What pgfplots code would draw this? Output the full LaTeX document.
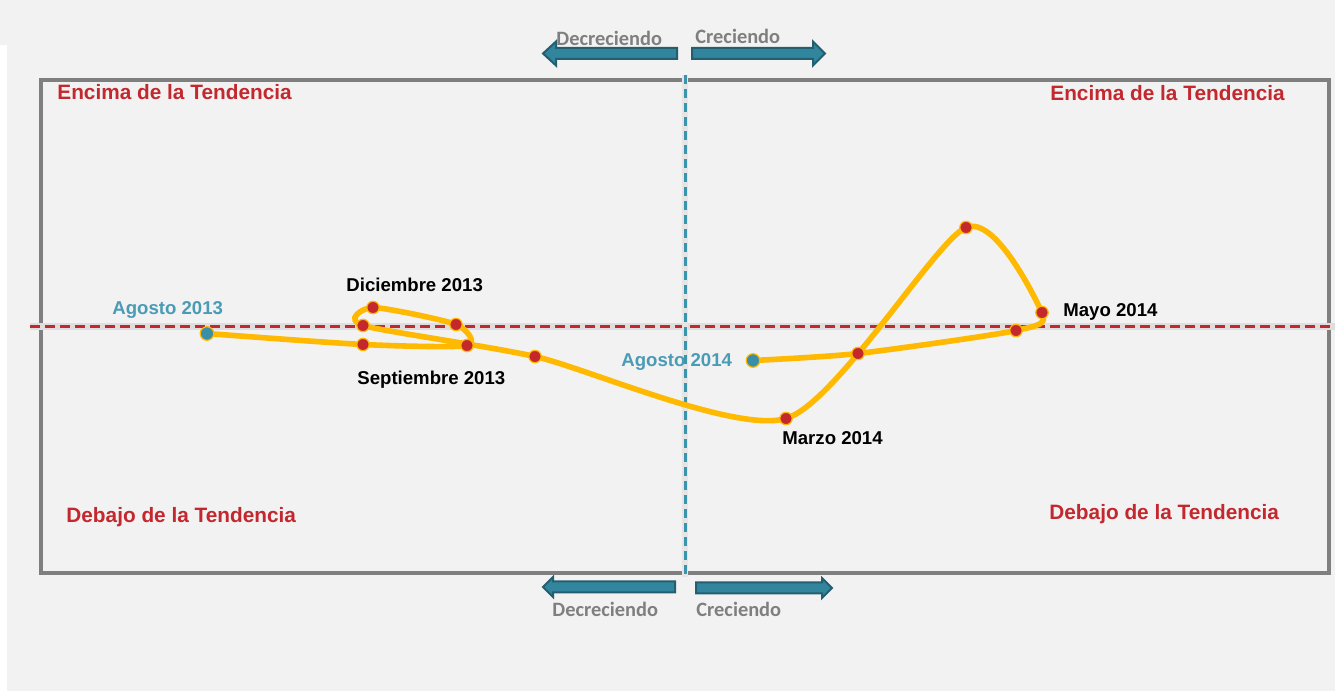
\documentclass[border=0pt]{standalone}
\usepackage{pgfplots}
\pgfplotsset{compat=1.18}
\usepackage{fontspec}
\setmainfont{Liberation Sans}
\newfontfamily\calfont{Carlito}
\definecolor{bg}{HTML}{F2F2F2}
\definecolor{framegray}{HTML}{7F7F7F}
\definecolor{curveor}{HTML}{FFB900}
\definecolor{dotred}{HTML}{C4282D}
\definecolor{trendred}{HTML}{C3282E}
\definecolor{tealline}{HTML}{3B94AE}
\definecolor{tealdot}{HTML}{3A8FA8}
\definecolor{tealdark}{HTML}{235F70}
\definecolor{tealfill}{HTML}{31859C}
\definecolor{tealtext}{HTML}{4A9BB5}
\definecolor{labelred}{HTML}{C3282E}
\newcommand{\labfont}{\bfseries\fontsize{9.3}{11}\selectfont}
\newcommand{\quadfont}{\bfseries\fontsize{10.4}{12}\selectfont}
\newcommand{\arrfont}{\calfont\bfseries\fontsize{10.2}{12}\selectfont}
\begin{document}
\begin{tikzpicture}
\fill[bg] (0,0) rectangle (667.5pt,345.5pt);
\useasboundingbox (0,0) rectangle (667.5pt,345.5pt);
\fill[white] (0,0) rectangle (3.5pt,323pt);
\begin{axis}[at={(20.5pt,59pt)}, anchor=south west, scale only axis,
  width=644pt, height=246.5pt,
  xmin=-6.44, xmax=6.44, ymin=-2.465, ymax=2.465,
  xtick=\empty, ytick=\empty,
  axis line style={draw=framegray, line width=2pt},
  clip=false, axis background/.style={fill=bg}]
\draw[black!13, line width=3.8pt] (axis cs:-6.55,0) -- (axis cs:6.5,0);
\draw[trendred, line width=1.7pt, dash pattern=on 5pt off 2.5pt] (axis cs:-6.55,0) -- (axis cs:6.5,0);
\draw[black!10, line width=3.2pt] (axis cs:0,2.51) -- (axis cs:0,-2.51);
\draw[tealline, line width=1.5pt, dash pattern=on 4.5pt off 2.5pt] (axis cs:0,2.51) -- (axis cs:0,-2.51);
\addplot[curveor, line width=2.8pt, smooth, tension=0.42] coordinates {
(-4.78,-0.07) (-3.22,-0.18) (-2.18,-0.19) (-2.29,0.02) (-3.12,0.19) (-3.22,0.01)
(-1.50,-0.30) (1.01,-0.92) (2.81,0.99) (3.57,0.14) (3.31,-0.04) (1.73,-0.27) (0.68,-0.34)};
\addplot[only marks, mark=*, mark size=3.1pt, mark options={fill=dotred, draw=curveor, line width=0.6pt}] coordinates {
(-3.22,-0.18) (-2.18,-0.19) (-2.29,0.02) (-3.12,0.19) (-3.22,0.01)
(-1.50,-0.30) (1.01,-0.92) (2.81,0.99) (3.57,0.14) (3.31,-0.04) (1.73,-0.27)};
\addplot[only marks, mark=*, mark size=3.4pt, mark options={fill=tealdot, draw=curveor, line width=0.6pt}] coordinates {
(-4.78,-0.07) (0.68,-0.34)};
\end{axis}
\begin{scope}[x=0.5pt, y=-0.5pt, shift={(0pt,345.5pt)}]
% arrows
\filldraw[fill=tealfill, draw=tealdark, line width=1pt]
 (543,53.5) -- (556,41.5) -- (556,48) -- (677,48) -- (677,59) -- (556,59) -- (556,65.5) -- cycle;
\filldraw[fill=tealfill, draw=tealdark, line width=1pt]
 (825,53.5) -- (813,41.5) -- (813,48) -- (692,48) -- (692,59) -- (813,59) -- (813,65.5) -- cycle;
\filldraw[fill=tealfill, draw=tealdark, line width=1pt]
 (543,587) -- (553,577) -- (553,581.5) -- (675,581.5) -- (675,592.5) -- (553,592.5) -- (553,597) -- cycle;
\filldraw[fill=tealfill, draw=tealdark, line width=1pt]
 (832,588) -- (822,578) -- (822,582.5) -- (696,582.5) -- (696,593.5) -- (822,593.5) -- (822,598) -- cycle;
\node[anchor=base west, inner sep=0pt, text=framegray, font=\arrfont] at (556,46) {Decreciendo};
\node[anchor=base west, inner sep=0pt, text=framegray, font=\arrfont] at (695,44) {Creciendo};
\node[anchor=base west, inner sep=0pt, text=framegray, font=\arrfont] at (552,617) {Decreciendo};
\node[anchor=base west, inner sep=0pt, text=framegray, font=\arrfont] at (696,617) {Creciendo};
% quadrant labels
\node[anchor=base west, inner sep=0pt, text=labelred, font=\quadfont] at (57,100) {Encima de la Tendencia};
\node[anchor=base west, inner sep=0pt, text=labelred, font=\quadfont] at (1050,101) {Encima de la Tendencia};
\node[anchor=base west, inner sep=0pt, text=labelred, font=\quadfont] at (66,523) {Debajo de la Tendencia};
\node[anchor=base west, inner sep=0pt, text=labelred, font=\quadfont] at (1049,520) {Debajo de la Tendencia};
% point labels
\node[anchor=base west, inner sep=0pt, text=tealtext, font=\labfont] at (112,315) {Agosto 2013};
\node[anchor=base west, inner sep=0pt, font=\labfont] at (346,292) {Diciembre 2013};
\node[anchor=base west, inner sep=0pt, font=\labfont] at (357,385) {Septiembre 2013};
\node[anchor=base west, inner sep=0pt, text=tealtext, font=\labfont] at (621,367) {Agosto 2014};
\node[anchor=base west, inner sep=0pt, font=\labfont] at (782,445) {Marzo 2014};
\node[anchor=base west, inner sep=0pt, font=\labfont] at (1063,317) {Mayo 2014};
\end{scope}
\end{tikzpicture}
\end{document}
